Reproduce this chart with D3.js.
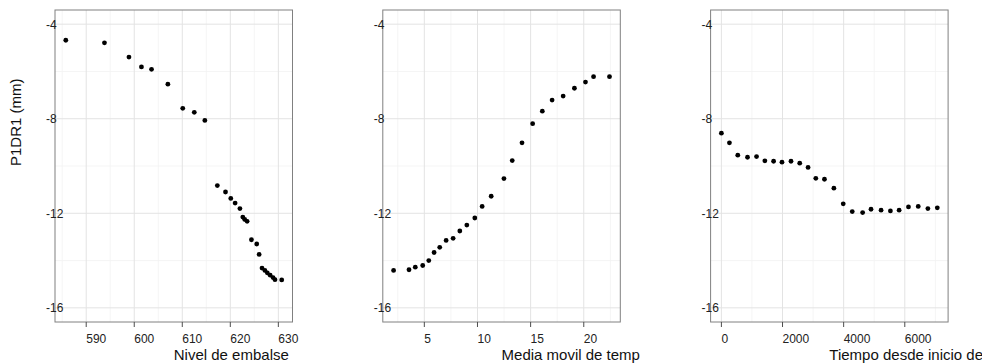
<!DOCTYPE html>
<html>
<head>
<meta charset="utf-8">
<script src="https://cdn.jsdelivr.net/npm/d3@7"></script>
<style>
  body { margin: 0; background: #fff; }
  text { font-family: "Liberation Sans", Arial, sans-serif; }
</style>
</head>
<body>
<svg id="chart" width="982" height="364"></svg>
<script>
// --- data ---
const nivelX = [585.75, 593.8, 598.9, 601.5, 603.6, 607.0, 610.1, 612.5, 614.7,
  617.3, 619.0, 620.1, 621.0, 622.0, 622.6, 623.0, 623.5, 624.4, 625.5, 626.0,
  626.6, 627.2, 627.7, 628.3, 628.9, 629.3, 630.7];
const nivelY = [-4.68, -4.79, -5.39, -5.81, -5.91, -6.54, -7.56, -7.73, -8.07,
  -10.83, -11.10, -11.37, -11.57, -11.80, -12.16, -12.26, -12.34, -13.12, -13.30, -13.74,
  -14.32, -14.42, -14.52, -14.62, -14.72, -14.81, -14.82];

const tempX = [2.11, 3.56, 4.15, 4.85, 5.42, 5.92, 6.45, 7.05, 7.71, 8.34, 9.0, 9.75,
  10.44, 11.29, 12.49, 13.27, 14.19, 15.19, 16.10, 17.02, 18.06, 19.12, 20.16, 20.92, 22.42];
const tempY = [-14.42, -14.39, -14.28, -14.21, -14.0, -13.66, -13.44, -13.15, -13.06, -12.75,
  -12.50, -12.20, -11.71, -11.28, -10.53, -9.77, -9.02, -8.21, -7.68, -7.21, -7.04, -6.71,
  -6.45, -6.22, -6.22];

const tiempoX = [0, 263, 536, 854, 1150, 1423, 1708, 1982, 2277, 2563, 2836, 3089, 3372,
  3680, 3986, 4281, 4621, 4895, 5224, 5530, 5815, 6121, 6440, 6756, 7064];
const tiempoY = [-8.61, -9.02, -9.54, -9.63, -9.60, -9.78, -9.80, -9.84, -9.80, -9.88,
  -10.06, -10.52, -10.56, -10.94, -11.60, -11.93, -11.97, -11.83, -11.87, -11.90, -11.87,
  -11.73, -11.71, -11.80, -11.77];

const xTicks1 = [590, 600, 610, 620, 630];
const xTicks2 = [5, 10, 15, 20];
const xTicks3 = [0, 2000, 4000, 6000];
const yTicks = [-16, -12, -8, -4];
const yLimits = [-16, -4];

const xTitles = ['Nivel de embalse', 'Media movil de temp', 'Tiempo desde inicio de la serie'];
const yTitle = 'P1DR1 (mm)';

const panels = [
  {xs: nivelX, ys: nivelY, ticks: xTicks1, title: xTitles[0]},
  {xs: tempX, ys: tempY, ticks: xTicks2, title: xTitles[1]},
  {xs: tiempoX, ys: tiempoY, ticks: xTicks3, title: xTitles[2]}
];

// --- layout ---
const svg = d3.select('#chart');
const panelTop = 10, panelBottom = 322, panelW = 237.5, firstLeft = 55, step = 327.8;

function expand(ext) {
  const pad = (ext[1] - ext[0]) * 0.05;
  return [ext[0] - pad, ext[1] + pad];
}

const y = d3.scaleLinear().domain(expand(yLimits)).range([panelBottom, panelTop]);
const yMinor = yTicks.slice(0, -1).map((t, i) => (t + yTicks[i + 1]) / 2);

panels.forEach((p, i) => {
  const left = firstLeft + i * step;
  const x = d3.scaleLinear().domain(expand(d3.extent(p.xs))).range([left, left + panelW]);
  const d = p.ticks[1] - p.ticks[0];
  const xMinor = d3.range(p.ticks[0] - d / 2, p.ticks[p.ticks.length - 1] + d, d)
    .filter(v => v > x.domain()[0] && v < x.domain()[1]);

  const g = svg.append('g');

  // grid
  g.selectAll('.xminor').data(xMinor).enter().append('line')
    .attr('x1', v => x(v)).attr('x2', v => x(v)).attr('y1', panelTop).attr('y2', panelBottom)
    .attr('stroke', '#f2f2f2').attr('stroke-width', 0.8);
  g.selectAll('.yminor').data(yMinor).enter().append('line')
    .attr('x1', left).attr('x2', left + panelW).attr('y1', v => y(v)).attr('y2', v => y(v))
    .attr('stroke', '#f2f2f2').attr('stroke-width', 0.8);
  g.selectAll('.xmajor').data(p.ticks).enter().append('line')
    .attr('x1', v => x(v)).attr('x2', v => x(v)).attr('y1', panelTop).attr('y2', panelBottom)
    .attr('stroke', '#e3e3e3').attr('stroke-width', 1);
  g.selectAll('.ymajor').data(yTicks).enter().append('line')
    .attr('x1', left).attr('x2', left + panelW).attr('y1', v => y(v)).attr('y2', v => y(v))
    .attr('stroke', '#e3e3e3').attr('stroke-width', 1);

  // points
  g.selectAll('circle').data(p.xs).enter().append('circle')
    .attr('cx', v => x(v)).attr('cy', (v, k) => y(p.ys[k]))
    .attr('r', 2.4).attr('fill', '#000');

  // border
  g.append('rect').attr('x', left).attr('y', panelTop)
    .attr('width', panelW).attr('height', panelBottom - panelTop)
    .attr('fill', 'none').attr('stroke', '#808080').attr('stroke-width', 1);

  // x ticks & labels (left-aligned at the tick)
  g.selectAll('.xtick').data(p.ticks).enter().append('line')
    .attr('x1', v => x(v)).attr('x2', v => x(v)).attr('y1', panelBottom).attr('y2', panelBottom + 5)
    .attr('stroke', '#4d4d4d').attr('stroke-width', 1);
  g.selectAll('.xlab').data(p.ticks).enter().append('text')
    .attr('x', v => x(v)).attr('y', 343)
    .attr('font-size', 12).attr('fill', '#222')
    .text(v => v);

  // y labels
  g.selectAll('.ylab').data(yTicks).enter().append('text')
    .attr('x', left - 9).attr('y', v => y(v)).attr('dy', '0.36em')
    .attr('font-size', 12).attr('fill', '#222')
    .text(v => v);

  // x title starts at panel centre
  g.append('text').attr('x', left + panelW / 2).attr('y', 360)
    .attr('font-size', 15).attr('fill', '#111')
    .text(p.title);
});

svg.append('text')
  .attr('transform', `translate(20.5, ${(panelTop + panelBottom) / 2}) rotate(-90)`)
  .attr('font-size', 15).attr('fill', '#111')
  .text(yTitle);
</script>
</body>
</html>
